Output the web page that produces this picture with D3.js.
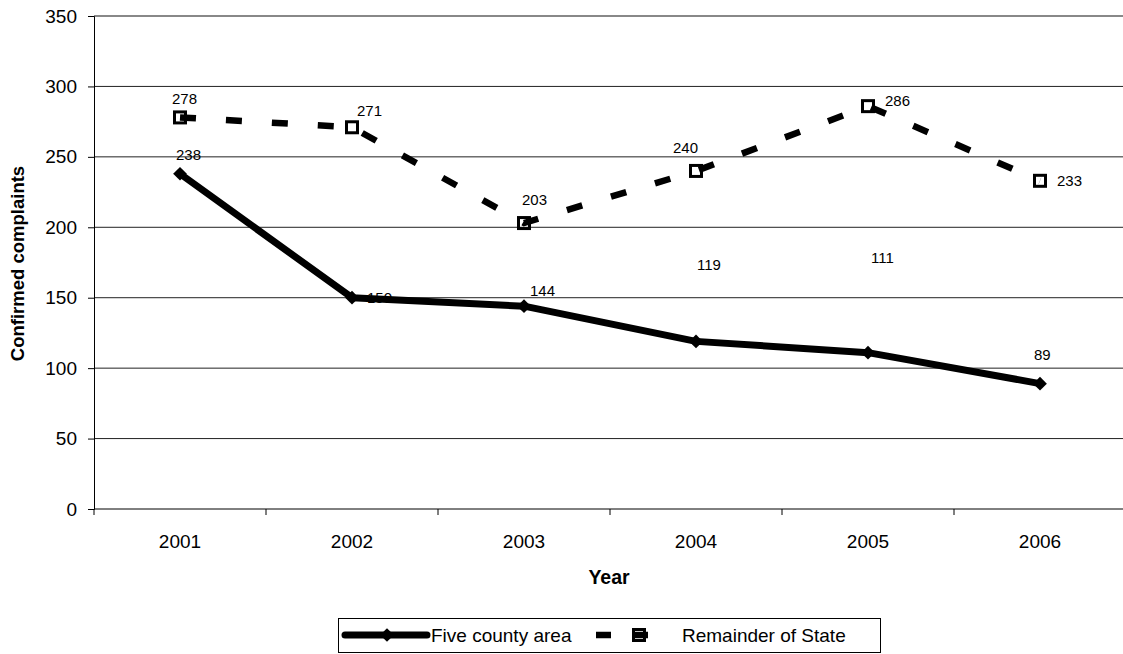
<!DOCTYPE html>
<html>
<head>
<meta charset="utf-8">
<script src="https://cdn.jsdelivr.net/npm/d3@7"></script>
<style>
  html, body { margin: 0; padding: 0; background: #fff; }
  svg { display: block; font-family: "Liberation Sans", Arial, sans-serif; }
</style>
</head>
<body>
<svg id="chart" width="1123" height="654"></svg>
<script>
// Confirmed complaints by year
const years = ["2001", "2002", "2003", "2004", "2005", "2006"];
const fiveCounty = [238, 150, 144, 119, 111, 89];
const remainder = [278, 271, 203, 240, 286, 233];
const yTicks = [0, 50, 100, 150, 200, 250, 300, 350];
const seriesNames = ["Five county area", "Remainder of State"];

// label placement relative to each point (dx, dy of text start / baseline)
const fiveLabelOffset = [[-4, -14], [15, 5], [6, -10], [1, -71], [3, -90], [-6, -24]];
const remLabelOffset = [[-8, -13], [5, -11], [-2, -18], [-23, -18], [17, 0], [17, 5]];

const svg = d3.select("#chart");
const margin = { left: 94, top: 16, right: 1126, bottom: 509 };

const x = d3.scaleBand().domain(years).range([margin.left, margin.right]);
const y = d3.scaleLinear().domain([0, 350]).range([margin.bottom, margin.top]);
const cx = d => x(d) + x.bandwidth() / 2;

// gridlines
svg.append("g").selectAll("line")
  .data(yTicks.filter(t => t > 0))
  .join("line")
  .attr("x1", margin.left).attr("x2", 1123)
  .attr("y1", d => y(d)).attr("y2", d => y(d))
  .attr("stroke", d => d === 350 ? "#888" : "#222")
  .attr("stroke-width", d => d === 350 ? 2 : 1);

// y axis
const yAxis = svg.append("g")
  .attr("transform", `translate(${margin.left},0)`)
  .call(d3.axisLeft(y).tickValues(yTicks).tickSize(6).tickPadding(11));
yAxis.select(".domain").attr("stroke", "#000");
yAxis.selectAll(".tick line").attr("stroke", "#000");
yAxis.selectAll("text").attr("font-size", 19).attr("fill", "#000")
  .attr("font-family", "Liberation Sans, Arial, sans-serif");

// x axis
const xAxis = svg.append("g")
  .attr("transform", `translate(0,${margin.bottom})`)
  .call(d3.axisBottom(x).tickSize(0).tickPadding(26));
xAxis.select(".domain").attr("stroke", "#000").attr("d", `M${margin.left},0H1123`);
xAxis.selectAll("text").attr("font-size", 19).attr("fill", "#000")
  .attr("font-family", "Liberation Sans, Arial, sans-serif");
// category boundary ticks
svg.append("g").selectAll("line")
  .data(years.map(d => x(d)))
  .join("line")
  .attr("x1", d => d).attr("x2", d => d)
  .attr("y1", margin.bottom).attr("y2", margin.bottom + 6)
  .attr("stroke", "#000");

// axis titles
svg.append("text")
  .attr("transform", `translate(24,${(margin.top + margin.bottom) / 2 + 1}) rotate(-90)`)
  .attr("text-anchor", "middle")
  .attr("font-size", 18.5).attr("font-weight", "bold")
  .text("Confirmed complaints");
svg.append("text")
  .attr("x", 609).attr("y", 584)
  .attr("text-anchor", "middle")
  .attr("font-size", 19.5).attr("font-weight", "bold")
  .text("Year");

const line = d3.line().x(d => cx(d.year)).y(d => y(d.value));
const fiveData = years.map((yr, i) => ({ year: yr, value: fiveCounty[i] }));
const remData = years.map((yr, i) => ({ year: yr, value: remainder[i] }));

// Remainder of State: dashed line with open squares
svg.append("path")
  .datum(remData)
  .attr("d", line)
  .attr("fill", "none")
  .attr("stroke", "#000")
  .attr("stroke-width", 6.5)
  .attr("stroke-dasharray", "16,30");

// Five county area: thick solid line with diamonds
svg.append("path")
  .datum(fiveData)
  .attr("d", line)
  .attr("fill", "none")
  .attr("stroke", "#000")
  .attr("stroke-width", 7)
  .attr("stroke-linejoin", "round");

svg.append("g").selectAll("rect")
  .data(remData)
  .join("rect")
  .attr("x", d => cx(d.year) - 5.5).attr("y", d => y(d.value) - 5.5)
  .attr("width", 11).attr("height", 11)
  .attr("fill", "none")
  .attr("stroke", "#000").attr("stroke-width", 3);

const diamond = d3.symbol().type(d3.symbolDiamond2).size(120);
svg.append("g").selectAll("path")
  .data(fiveData)
  .join("path")
  .attr("transform", d => `translate(${cx(d.year)},${y(d.value)})`)
  .attr("d", diamond)
  .attr("fill", "#000");

// data labels
svg.append("g").selectAll("text")
  .data(remData)
  .join("text")
  .attr("x", (d, i) => cx(d.year) + remLabelOffset[i][0])
  .attr("y", (d, i) => y(d.value) + remLabelOffset[i][1])
  .attr("font-size", 15)
  .text(d => d.value);
svg.append("g").selectAll("text")
  .data(fiveData)
  .join("text")
  .attr("x", (d, i) => cx(d.year) + fiveLabelOffset[i][0])
  .attr("y", (d, i) => y(d.value) + fiveLabelOffset[i][1])
  .attr("font-size", 15)
  .text(d => d.value);

// legend
const lg = svg.append("g");
lg.append("rect")
  .attr("x", 338.5).attr("y", 618.5)
  .attr("width", 542).attr("height", 34)
  .attr("fill", "#fff").attr("stroke", "#000").attr("stroke-width", 1);
const ly = 635;
lg.append("line")
  .attr("x1", 345).attr("x2", 427).attr("y1", ly).attr("y2", ly)
  .attr("stroke", "#000").attr("stroke-width", 7).attr("stroke-linecap", "round");
lg.append("path")
  .attr("transform", `translate(387,${ly})`)
  .attr("d", diamond).attr("fill", "#000");
lg.append("text")
  .attr("x", 431).attr("y", ly + 7)
  .attr("font-size", 19)
  .text(seriesNames[0]);
lg.append("line")
  .attr("x1", 596).attr("x2", 660).attr("y1", ly).attr("y2", ly)
  .attr("stroke", "#000").attr("stroke-width", 6.5)
  .attr("stroke-dasharray", "15,22");
lg.append("rect")
  .attr("x", 633.5).attr("y", ly - 5.5).attr("width", 11).attr("height", 11)
  .attr("fill", "none").attr("stroke", "#000").attr("stroke-width", 3);
lg.append("text")
  .attr("x", 682).attr("y", ly + 7)
  .attr("font-size", 19)
  .text(seriesNames[1]);
</script>
</body>
</html>
